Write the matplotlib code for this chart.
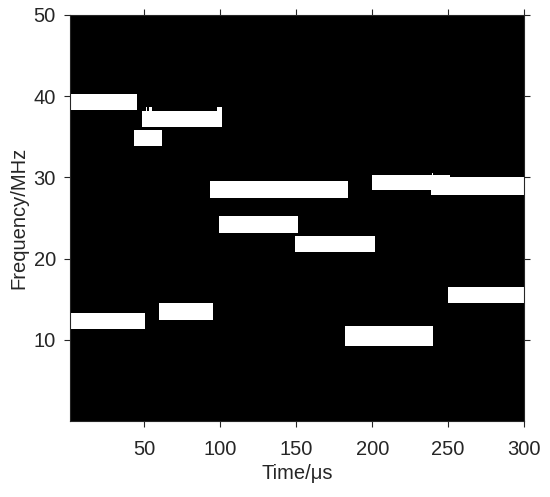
import matplotlib.pyplot as plt

plt.rcParams['font.family'] = ['Liberation Sans', 'DejaVu Sans']

# time-frequency blocks (us, MHz)
t_start = [1, 48.6, 43.4, 1, 59.8, 93.2, 98.9, 149.4, 199.7, 238.8, 250.2, 182.4]
t_end = [45.3, 100.9, 61.6, 50.6, 95.0, 184.3, 151.4, 201.7, 251.3, 300, 300, 239.7]
f_low = [38.3, 36.2, 33.9, 11.3, 12.4, 27.5, 23.2, 20.8, 28.4, 27.8, 14.5, 9.2]
f_high = [40.3, 38.2, 35.8, 13.3, 14.5, 29.5, 25.2, 22.8, 30.3, 30.0, 16.5, 11.7]

# small spurs on top of some blocks
spur_t0 = [51.1, 53.2, 98.0, 239.3]
spur_t1 = [52.0, 54.8, 100.9, 240.3]
spur_f0 = [38.2, 38.2, 38.2, 30.0]
spur_f1 = [38.7, 38.7, 38.7, 30.5]

xticks = [50, 100, 150, 200, 250, 300]
yticks = [10, 20, 30, 40, 50]

fig = plt.figure(figsize=(5.5, 4.97), dpi=100)
ax = fig.add_axes([0.127, 0.153, 0.826, 0.817])
ax.set_facecolor('black')

w = [b - a for a, b in zip(t_start, t_end)]
h = [b - a for a, b in zip(f_low, f_high)]
ax.bar(t_start, h, width=w, bottom=f_low, align='edge', color='white', linewidth=0)

sw = [b - a for a, b in zip(spur_t0, spur_t1)]
sh = [b - a for a, b in zip(spur_f0, spur_f1)]
ax.bar(spur_t0, sh, width=sw, bottom=spur_f0, align='edge', color='white', linewidth=0)

ax.set_xlim(1, 300)
ax.set_ylim(0, 50)
ax.set_xticks(xticks)
ax.set_yticks(yticks)
ax.tick_params(labelsize=14.5, colors='#262626', direction='out', length=4, width=0.8,
               right=True, top=True)
ax.tick_params(axis='x', pad=9.5)
ax.tick_params(axis='y', pad=6)
for s in ax.spines.values():
    s.set_color('#262626')
    s.set_linewidth(0.8)
ax.set_xlabel('Time/μs', fontsize=14.5, color='#262626', labelpad=4)
ax.set_ylabel('Frequency/MHz', fontsize=14.5, color='#262626', labelpad=4)

fig.savefig('out.png', dpi=100)
